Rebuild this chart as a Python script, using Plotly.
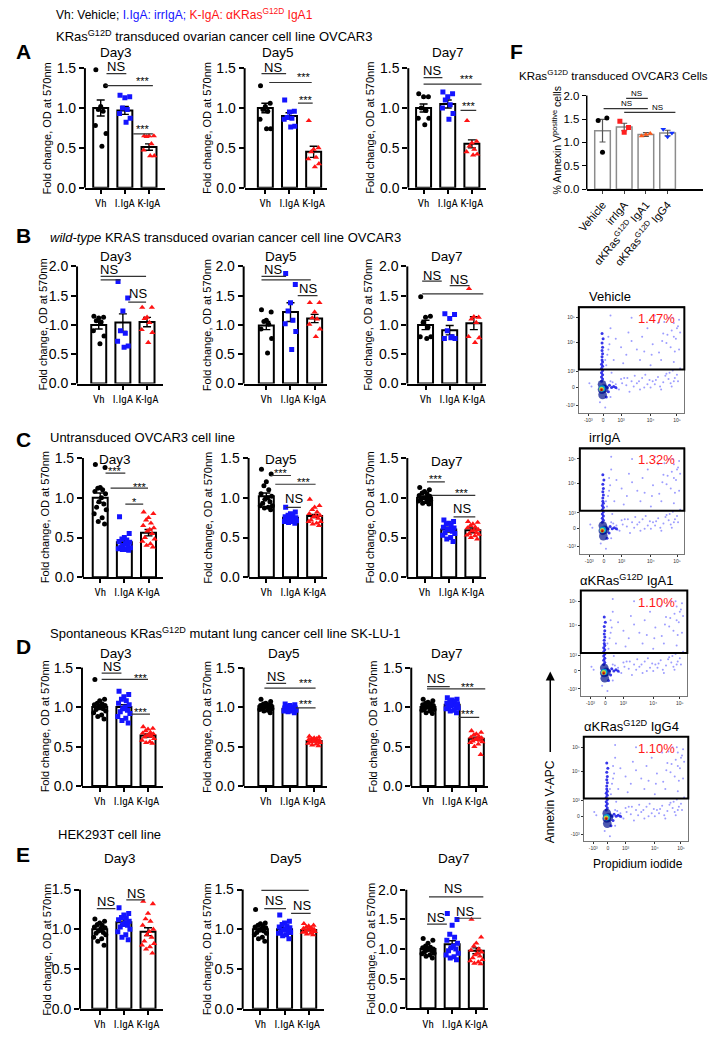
import plotly.graph_objects as go

W, H = 708, 1040
FONT = "Arial, Liberation Sans, sans-serif"
NARROW = "Liberation Sans Narrow, Arial Narrow, Roboto Condensed, Arial, sans-serif"

groups = ["Vh", "I.IgA", "K-IgA"]
group_colors = ["black", "#1414ff", "#ff1414"]
group_symbols = ["circle", "square", "triangle-up"]

# ---- panel A: KRas G12D transduced OVCAR3 ----
A3_mean = [1.0, 0.97, 0.51]
A3_sem = [0.10, 0.05, 0.04]
A3_pts = [[1.48, 1.28, 1.02, 0.98, 0.96, 0.78, 0.68, 0.52],
          [1.16, 1.14, 1.13, 1.0, 0.98, 0.93, 0.87, 0.82],
          [0.65, 0.65, 0.65, 0.64, 0.55, 0.47, 0.40, 0.40]]
A3_sig = [(0.24, 1.06, 1.43, "NS", 0.65, 1.52), (0.2, 2.16, 1.28, "***", 1.76, 1.37),
          (1.35, 2.16, 0.675, "***", 1.76, 0.77)]
A5_mean = [1.0, 0.9, 0.45]
A5_sem = [0.06, 0.04, 0.07]
A5_pts = [[1.28, 1.06, 1.02, 0.98, 0.96, 0.86, 0.74, 0.74],
          [1.1, 0.96, 0.95, 0.88, 0.87, 0.86, 0.77, 0.76],
          [0.84, 0.50, 0.48, 0.45, 0.38, 0.36, 0.30, 0.26]]
A5_sig = [(-0.16, 0.86, 1.43, "NS", 0.33, 1.51), (0.16, 1.92, 1.32, "***", 1.6, 1.42),
          (1.35, 1.96, 1.06, "***", 1.67, 1.13)]
A7_mean = [1.0, 1.05, 0.55]
A7_sem = [0.05, 0.05, 0.05]
A7_pts = [[1.18, 1.14, 1.14, 1.0, 0.97, 0.87, 0.87, 0.79],
          [1.2, 1.18, 1.14, 1.1, 1.04, 1.0, 0.93, 0.86],
          [0.84, 0.58, 0.56, 0.52, 0.48, 0.45, 0.42, 0.41]]
A7_sig = [(0.0, 0.78, 1.38, "NS", 0.35, 1.47), (0.0, 2.4, 1.30, "***", 1.78, 1.39),
          (1.53, 2.18, 0.97, "***", 1.86, 1.06)]

# ---- panel B: wild-type KRAS transduced OVCAR3 ----
B3_mean = [1.0, 1.04, 1.05]
B3_sem = [0.07, 0.15, 0.08]
B3_pts = [[1.15, 1.13, 1.12, 1.07, 1.05, 0.9, 0.81, 0.68],
          [1.74, 1.46, 1.24, 0.9, 0.86, 0.72, 0.64, 0.62],
          [1.3, 1.3, 1.13, 1.11, 1.04, 0.92, 0.87, 0.7]]
B3_sig = [(0.08, 0.9, 1.77, "", 0, 0), (0.08, 1.96, 1.83, "NS", 0.41, 1.95),
          (1.22, 1.96, 1.39, "NS", 1.63, 1.53)]
B5_mean = [0.99, 1.22, 1.11]
B5_sem = [0.07, 0.16, 0.07]
B5_pts = [[1.26, 1.22, 1.08, 1.06, 1.01, 0.93, 0.77, 0.52],
          [1.88, 1.69, 1.38, 1.24, 1.08, 1.02, 0.89, 0.58],
          [1.38, 1.38, 1.22, 1.12, 1.1, 1.01, 0.93, 0.8]]
B5_sig = [(-0.2, 0.82, 1.83, "NS", 0.29, 1.94), (-0.2, 1.84, 1.77, "", 0, 0),
          (1.3, 2.12, 1.5, "NS", 1.71, 1.63)]
B7_mean = [1.0, 0.91, 1.03]
B7_sem = [0.08, 0.08, 0.11]
B7_pts = [[1.48, 1.15, 1.13, 1.04, 0.96, 0.8, 0.8, 0.77],
          [1.19, 1.18, 1.11, 0.9, 0.8, 0.77, 0.77, 0.78],
          [1.62, 1.13, 1.14, 1.1, 1.04, 0.8, 0.78, 0.7]]
B7_sig = [(-0.14, 0.67, 1.75, "NS", 0.27, 1.85), (1.0, 1.82, 1.67, "NS", 1.37, 1.78),
          (-0.14, 2.39, 1.53, "", 0, 0)]

# ---- panel C: untransduced OVCAR3 ----
C3_mean = [1.0, 0.44, 0.56]
C3_sem = [0.06, 0.03, 0.04]
C3_pts = [[1.42, 1.38, 1.13, 1.12, 1.1, 1.08, 1.05, 1.0, 0.95, 0.92, 0.88, 0.85, 0.8, 0.75, 0.7, 0.67],
          [0.76, 0.55, 0.5, 0.48, 0.47, 0.45, 0.44, 0.42, 0.4, 0.4, 0.38, 0.37, 0.36, 0.35, 0.35, 0.34],
          [0.82, 0.8, 0.75, 0.72, 0.68, 0.65, 0.62, 0.6, 0.58, 0.55, 0.5, 0.48, 0.45, 0.42, 0.4, 0.38]]
C3_sig = [(0.22, 1.04, 1.31, "***", 0.63, 1.37), (0.43, 1.98, 1.12, "***", 1.65, 1.17),
          (1.04, 1.78, 0.92, "*", 1.41, 0.98)]
C5_mean = [1.02, 0.75, 0.77]
C5_sem = [0.04, 0.02, 0.02]
C5_pts = [[1.36, 1.3, 1.2, 1.15, 1.1, 1.05, 1.02, 1.0, 0.98, 0.95, 0.93, 0.9, 0.9, 0.88, 0.87, 0.85],
          [0.88, 0.82, 0.8, 0.78, 0.77, 0.76, 0.75, 0.74, 0.73, 0.72, 0.72, 0.71, 0.7, 0.7, 0.69, 0.68],
          [0.98, 0.9, 0.88, 0.85, 0.82, 0.8, 0.78, 0.77, 0.76, 0.74, 0.72, 0.7, 0.7, 0.68, 0.67, 0.65]]
C5_sig = [(0.2, 1.02, 1.28, "***", 0.61, 1.34), (0.37, 2.04, 1.17, "***", 1.55, 1.23),
          (0.82, 1.43, 0.88, "NS", 1.14, 0.99)]
C7_mean = [1.0, 0.6, 0.59]
C7_sem = [0.02, 0.03, 0.03]
C7_pts = [[1.13, 1.1, 1.08, 1.06, 1.05, 1.03, 1.02, 1.0, 1.0, 0.99, 0.98, 0.97, 0.96, 0.95, 0.93, 0.92],
          [0.72, 0.7, 0.68, 0.67, 0.65, 0.63, 0.62, 0.6, 0.6, 0.58, 0.56, 0.55, 0.53, 0.5, 0.48, 0.45],
          [0.7, 0.69, 0.67, 0.65, 0.63, 0.62, 0.6, 0.59, 0.58, 0.56, 0.55, 0.54, 0.53, 0.52, 0.5, 0.48]]
C7_sig = [(0.1, 0.84, 1.2, "***", 0.47, 1.26), (0.31, 2.1, 1.03, "***", 1.53, 1.09),
          (1.2, 2.1, 0.76, "NS", 1.53, 0.87)]

# ---- panel D: SK-LU-1 ----
D3_mean = [1.0, 1.0, 0.64]
D3_sem = [0.03, 0.03, 0.02]
D3_pts = [[1.35, 1.1, 1.08, 1.05, 1.04, 1.03, 1.02, 1.0, 1.0, 0.98, 0.97, 0.95, 0.93, 0.9, 0.88, 0.85],
          [1.2, 1.16, 1.13, 1.1, 1.08, 1.05, 1.03, 1.0, 0.98, 0.96, 0.94, 0.92, 0.88, 0.86, 0.83, 0.8],
          [0.75, 0.73, 0.72, 0.7, 0.68, 0.67, 0.66, 0.65, 0.64, 0.63, 0.62, 0.6, 0.58, 0.56, 0.55, 0.54]]
D3_sig = [(0.08, 0.9, 1.43, "NS", 0.49, 1.51), (0.08, 2.0, 1.35, "***", 1.71, 1.40),
          (1.31, 2.08, 0.91, "***", 1.71, 0.97)]
D5_mean = [1.01, 0.98, 0.57]
D5_sem = [0.01, 0.01, 0.01]
D5_pts = [[1.1, 1.07, 1.05, 1.04, 1.03, 1.02, 1.02, 1.01, 1.0, 1.0, 0.99, 0.98, 0.97, 0.96, 0.95, 0.93],
          [1.04, 1.03, 1.02, 1.01, 1.0, 0.99, 0.99, 0.98, 0.98, 0.97, 0.97, 0.96, 0.95, 0.95, 0.94, 0.93],
          [0.63, 0.62, 0.61, 0.6, 0.6, 0.59, 0.58, 0.57, 0.57, 0.56, 0.56, 0.55, 0.54, 0.53, 0.52, 0.51]]
D5_sig = [(0.02, 0.84, 1.3, "NS", 0.43, 1.39), (-0.06, 2.06, 1.24, "***", 1.65, 1.33),
          (1.24, 2.06, 0.99, "***", 1.65, 1.07)]
D7_mean = [1.0, 1.03, 0.6]
D7_sem = [0.02, 0.02, 0.02]
D7_pts = [[1.1, 1.08, 1.06, 1.05, 1.04, 1.03, 1.02, 1.01, 1.0, 0.99, 0.98, 0.97, 0.96, 0.95, 0.93, 0.92],
          [1.12, 1.1, 1.09, 1.08, 1.07, 1.05, 1.04, 1.03, 1.02, 1.01, 1.0, 0.99, 0.98, 0.96, 0.95, 0.93],
          [0.7, 0.68, 0.66, 0.65, 0.63, 0.62, 0.61, 0.6, 0.59, 0.58, 0.57, 0.56, 0.55, 0.53, 0.5, 0.4]]
D7_sig = [(-0.04, 0.9, 1.26, "NS", 0.33, 1.36), (-0.04, 2.37, 1.23, "***", 1.67, 1.29),
          (1.27, 2.12, 0.87, "***", 1.67, 0.94)]

# ---- panel E: HEK293T ----
E3_mean = [1.0, 1.09, 0.97]
E3_sem = [0.03, 0.03, 0.05]
E3_pts = [[1.13, 1.1, 1.08, 1.06, 1.05, 1.03, 1.02, 1.0, 0.98, 0.96, 0.95, 0.93, 0.9, 0.88, 0.85, 0.8],
          [1.27, 1.2, 1.18, 1.15, 1.14, 1.12, 1.1, 1.08, 1.06, 1.05, 1.03, 1.0, 0.97, 0.93, 0.9, 0.87],
          [1.35, 1.32, 1.2, 1.13, 1.1, 1.05, 1.0, 0.97, 0.93, 0.9, 0.85, 0.82, 0.8, 0.78, 0.75, 0.7]]
E3_sig = [(0.04, 2.08, 1.56, "NS", 1.02, 1.65), (-0.12, 0.65, 1.26, "NS", 0.24, 1.35),
          (1.1, 1.88, 1.37, "NS", 1.51, 1.45)]
E5_mean = [1.0, 1.0, 0.99]
E5_sem = [0.03, 0.02, 0.01]
E5_pts = [[1.25, 1.08, 1.07, 1.05, 1.04, 1.03, 1.02, 1.0, 0.99, 0.98, 0.96, 0.95, 0.93, 0.9, 0.88, 0.85],
          [1.18, 1.1, 1.08, 1.06, 1.04, 1.03, 1.02, 1.0, 0.99, 0.98, 0.97, 0.96, 0.95, 0.93, 0.92, 0.88],
          [1.07, 1.05, 1.04, 1.03, 1.02, 1.01, 1.0, 1.0, 0.99, 0.98, 0.97, 0.97, 0.96, 0.95, 0.94, 0.93]]
E5_sig = [(0.04, 2.0, 1.49, "NS", 1.06, 1.59), (0.16, 1.06, 1.26, "NS", 0.57, 1.36),
          (1.27, 2.08, 1.2, "NS", 1.71, 1.3)]
E7_mean = [1.0, 1.08, 0.97]
E7_sem = [0.03, 0.06, 0.05]
E7_pts = [[1.18, 1.15, 1.1, 1.05, 1.03, 1.02, 1.0, 1.0, 0.98, 0.97, 0.95, 0.93, 0.92, 0.9, 0.88, 0.85],
          [1.6, 1.5, 1.4, 1.25, 1.2, 1.15, 1.1, 1.05, 1.02, 1.0, 0.97, 0.93, 0.9, 0.87, 0.85, 0.82],
          [1.5, 1.2, 1.1, 1.05, 1.0, 0.98, 0.95, 0.93, 0.9, 0.88, 0.85, 0.82, 0.8, 0.78, 0.76, 0.75]]
E7_sig = [(0.04, 2.29, 1.88, "NS", 1.02, 2.02), (-0.04, 0.78, 1.42, "NS", 0.33, 1.53),
          (1.18, 2.2, 1.52, "NS", 1.55, 1.63)]

# ---- panel F: annexin V ----
F_groups = ["Vehicle", "irrIgA", "αKRas<sup>G12D</sup> IgA1", "αKRas<sup>G12D</sup> IgG4"]
F_mean = [1.25, 1.33, 1.17, 1.2]
F_sem = [0.24, 0.08, 0.04, 0.06]
F_pts = [[1.47, 1.52, 0.79], [1.45, 1.32, 1.22], [1.14, 1.19, 1.17], [1.28, 1.2, 1.12]]
F_colors = ["black", "#ff2020", "#ff5a1a", "#1030ff"]
F_symbols = ["circle", "square", "triangle-up", "triangle-down"]
F_sig = [(1.09, 2.09, 1.94, "NS", 1.59, 2.04), (0.05, 2.09, 1.72, "NS", 1.09, 1.82),
         (1.0, 3.36, 1.64, "NS", 2.55, 1.75)]

# ---- flow cytometry (display units 0-1) ----
flow_names = ["Vehicle", "irrIgA", "αKRas<sup>G12D</sup> IgA1", "αKRas<sup>G12D</sup> IgG4"]
flow_pct = ["1.47%", "1.32%", "1.10%", "1.10%"]
flow_gate_low = 0.41
flow_xticks = [0.09, 0.23, 0.40, 0.68, 0.93]
flow_xtext = ["-10³", "0", "10³", "10⁴", "10⁵"]
flow_yticks = [0.07, 0.24, 0.39, 0.67, 0.90]
flow_ytext = ["-10³", "0", "10³", "10⁴", "10⁵"]
ev_x = [0.85, 0.9, 0.88, 0.92, 0.8, 0.75, 0.95, 0.87, 0.7, 0.65, 0.6, 0.55, 0.5, 0.45, 0.4, 0.35,
        0.3, 0.28, 0.33, 0.42, 0.58, 0.68, 0.78, 0.9, 0.95, 0.72, 0.5, 0.3, 0.93, 0.83, 0.62, 0.47,
        0.3, 0.35, 0.4, 0.45, 0.5, 0.55, 0.6, 0.65, 0.7, 0.75, 0.8, 0.85, 0.9, 0.93, 0.38, 0.48,
        0.58, 0.68, 0.78, 0.88, 0.2, 0.3, 0.25, 0.12, 0.1, 0.63, 0.73, 0.83, 0.53, 0.43, 0.96, 0.89,
        0.27, 0.32, 0.36, 0.41, 0.46, 0.52, 0.57, 0.62, 0.67, 0.72, 0.77, 0.82, 0.87, 0.91, 0.94, 0.86,
        0.9, 0.94, 0.89, 0.84, 0.79, 0.91, 0.96, 0.81, 0.76, 0.69, 0.26, 0.27, 0.29, 0.31, 0.25, 0.28]
ev_y = [0.9, 0.85, 0.78, 0.7, 0.75, 0.85, 0.6, 0.62, 0.65, 0.8, 0.72, 0.6, 0.68, 0.55, 0.62, 0.7,
        0.8, 0.6, 0.5, 0.47, 0.5, 0.45, 0.5, 0.48, 0.88, 0.92, 0.9, 0.92, 0.8, 0.66, 0.58, 0.76,
        0.3, 0.27, 0.32, 0.26, 0.3, 0.28, 0.33, 0.27, 0.3, 0.34, 0.29, 0.32, 0.3, 0.36, 0.22, 0.2,
        0.22, 0.24, 0.22, 0.25, 0.1, 0.15, 0.05, 0.25, 0.28, 0.36, 0.31, 0.37, 0.35, 0.33, 0.42, 0.4,
        0.24, 0.29, 0.23, 0.28, 0.33, 0.25, 0.3, 0.24, 0.31, 0.27, 0.25, 0.35, 0.28, 0.33, 0.3, 0.38,
        0.72, 0.82, 0.9, 0.74, 0.68, 0.58, 0.76, 0.86, 0.57, 0.55, 0.45, 0.55, 0.65, 0.38, 0.5, 0.72]
streak_x = [0.215, 0.225, 0.215, 0.225, 0.215, 0.225, 0.215, 0.225, 0.215, 0.225, 0.22, 0.22,
            0.225, 0.22, 0.225, 0.22, 0.23, 0.22, 0.25, 0.27, 0.29, 0.31, 0.33, 0.35, 0.26, 0.28]
streak_y = [0.3, 0.32, 0.34, 0.36, 0.38, 0.4, 0.42, 0.44, 0.46, 0.48, 0.5, 0.53, 0.56, 0.59, 0.62,
            0.66, 0.7, 0.75, 0.25, 0.24, 0.26, 0.24, 0.25, 0.24, 0.15, 0.2]
core_x = [0.22, 0.22, 0.225, 0.24, 0.22, 0.215, 0.215, 0.215]
core_y = [0.22, 0.27, 0.17, 0.23, 0.23, 0.225, 0.22, 0.215]
core_level = [0.05, 0.05, 0.05, 0.05, 0.35, 0.6, 0.8, 1.0]

SP = 24.5  # px between bar centres
JIT = [-0.2, 0.2, 0.0, -0.1, 0.1, -0.22, 0.22, 0.05, -0.05, 0.15, -0.15, 0.25, -0.25, 0.08, -0.08, 0.18]

# (mean, sem, pts, sig, day, axis_x, first_centre, end_x, y0, px_per_unit, axmax, ylab_x, day_x, day_y)
panels = [
    (A3_mean, A3_sem, A3_pts, A3_sig, "Day3", 76, 92, 157, 185, 80.7, 1.5, 37, 108, 48),
    (A5_mean, A5_sem, A5_pts, A5_sig, "Day5", 238, 259, 322, 185, 80.7, 1.5, 200, 272, 48),
    (A7_mean, A7_sem, A7_pts, A7_sig, "Day7", 404, 419.5, 483, 185, 80.7, 1.5, 365, 444, 48),
    (B3_mean, B3_sem, B3_pts, B3_sig, "Day3", 68, 90, 155, 383.3, 59.3, 2.0, 33, 108, 255),
    (B5_mean, B5_sem, B5_pts, B5_sig, "Day5", 237, 260, 322, 383.3, 59.3, 2.0, 200, 275, 255),
    (B7_mean, B7_sem, B7_pts, B7_sig, "Day7", 403, 421.5, 483, 383.3, 59.3, 2.0, 363, 443, 255),
    (C3_mean, C3_sem, C3_pts, C3_sig, "Day3", 74, 91.5, 155, 579.5, 80.5, 1.5, 35, 107, 460),
    (C5_mean, C5_sem, C5_pts, C5_sig, "Day5", 242, 260, 322, 579.5, 80.5, 1.5, 200, 275, 460),
    (C7_mean, C7_sem, C7_pts, C7_sig, "Day7", 403, 420.5, 483, 579.5, 80.5, 1.5, 365, 443, 462),
    (D3_mean, D3_sem, D3_pts, D3_sig, "Day3", 73, 91, 155, 791, 80, 1.5, 35, 108, 657),
    (D5_mean, D5_sem, D5_pts, D5_sig, "Day5", 237, 259.5, 322, 791, 80, 1.5, 200, 278, 657),
    (D7_mean, D7_sem, D7_pts, D7_sig, "Day7", 407, 424, 485, 791, 80, 1.5, 368, 443, 657),
    (E3_mean, E3_sem, E3_pts, E3_sig, "Day3", 71, 91, 155, 1016.5, 80.5, 1.5, 38, 112, 864),
    (E5_mean, E5_sem, E5_pts, E5_sig, "Day5", 236, 254, 318, 1016.5, 80.5, 1.5, 200, 280, 864),
    (E7_mean, E7_sem, E7_pts, E7_sig, "Day7", 402, 424, 485, 1016, 60, 2.0, 366, 450, 864),
]

fig = go.Figure()
layout = {}
shapes = []
annots = []


def px(x):
    return x / W


def py(y):
    return 1 - y / H


def text(x, y, s, size=12, color="black", xanchor="center", yanchor="middle", angle=0, bold=False):
    if bold:
        s = "<b>" + s + "</b>"
    annots.append(dict(x=px(x), y=py(y), xref="paper", yref="paper", text=s, showarrow=False,
                       xanchor=xanchor, yanchor=yanchor, textangle=angle,
                       font=dict(size=size, color=color, family=FONT)))


def axis_ids(n):
    s = "" if n == 1 else str(n)
    return "x" + s, "y" + s, "xaxis" + s, "yaxis" + s


def add_sig(xid, yid, sig, ns_size, star_size, color="#333"):
    for x0, x1, yl, lab, tx, ty in sig:
        shapes.append(dict(type="line", xref=xid, yref=yid, x0=x0, x1=x1, y0=yl, y1=yl,
                           line=dict(color=color, width=1.2)))
        if lab:
            sz = ns_size if lab == "NS" else star_size
            dy = 0 if lab == "NS" else -0.03
            annots.append(dict(x=tx, y=ty + dy, xref=xid, yref=yid, text=lab, showarrow=False,
                               font=dict(size=sz, color="black", family=FONT)))


n = 0
for mean, sem, pts, sig, day, ax_x, c0, end_x, y0, ppu, axmax, ylab_x, day_x, day_y in panels:
    n += 1
    xid, yid, xk, yk = axis_ids(n)
    ytop = axmax * 1.03
    fig.add_trace(go.Bar(x=[0, 1, 2], y=mean, width=0.62, xaxis=xid, yaxis=yid,
                         marker=dict(color="white", line=dict(color="black", width=2)),
                         error_y=dict(type="data", array=sem, color="black", thickness=1.4, width=4)))
    for gi in range(3):
        xs = [gi + JIT[k % len(JIT)] for k in range(len(pts[gi]))]
        fig.add_trace(go.Scatter(x=xs, y=pts[gi], mode="markers", xaxis=xid, yaxis=yid,
                                 marker=dict(symbol=group_symbols[gi], color=group_colors[gi],
                                             size=5 if gi < 2 else 5.5, line=dict(width=0))))
    layout[xk] = dict(domain=[px(ax_x), px(end_x)], range=[(ax_x - c0) / SP, (end_x - c0) / SP],
                      anchor=yid, tickvals=[0, 1, 2], ticktext=groups, tickangle=0, showline=True,
                      linewidth=2, linecolor="black", ticks="outside", ticklen=4, tickwidth=1.5,
                      tickcolor="black", showgrid=False, zeroline=False,
                      tickfont=dict(size=11, color="black", family=NARROW))
    yticks = [i * 0.5 for i in range(int(axmax / 0.5) + 1)]
    layout[yk] = dict(domain=[py(y0), py(y0 - ppu * ytop)], range=[0, ytop], anchor=xid,
                      tickvals=yticks, ticktext=["%.1f" % v for v in yticks], showline=False,
                      ticks="outside", ticklen=5, tickwidth=1.5, tickcolor="black",
                      showgrid=False, zeroline=False, tickfont=dict(size=14, color="black", family=FONT))
    shapes.append(dict(type="line", xref=xid + " domain", yref=yid + " domain", x0=0, x1=0,
                       y0=0, y1=axmax / ytop, line=dict(color="black", width=2)))
    add_sig(xid, yid, sig, 13, 11)
    text(day_x, day_y, day, size=13.5)
    text(ylab_x, y0 - ppu * axmax / 2, "Fold change, OD at 570nm", size=11, angle=-90)

# ---- panel F bar chart ----
n += 1
xid, yid, xk, yk = axis_ids(n)
F_ax, F_c0, F_end, F_y0, F_ppu, F_max, F_sp = 585, 601, 703, 186.7, 47.5, 2.0, 22
F_top = 2.1
fig.add_trace(go.Bar(x=[0, 1, 2, 3], y=F_mean, width=0.72, xaxis=xid, yaxis=yid,
                     marker=dict(color="white", line=dict(color="#8c8c8c", width=1.5)),
                     error_y=dict(type="data", array=F_sem, color="#555", thickness=1.2, width=3)))
for gi in range(4):
    xs = [gi + o for o in [-0.2, 0.2, 0.0][:len(F_pts[gi])]]
    fig.add_trace(go.Scatter(x=xs, y=F_pts[gi], mode="markers", xaxis=xid, yaxis=yid,
                             marker=dict(symbol=F_symbols[gi], color=F_colors[gi], size=5)))
layout[xk] = dict(domain=[px(F_ax), px(F_end)], range=[(F_ax - F_c0) / F_sp, (F_end - F_c0) / F_sp],
                  anchor=yid, tickvals=[0, 1, 2, 3], ticktext=F_groups, tickangle=-50, showline=True,
                  linewidth=1.5, linecolor="black", ticks="outside", ticklen=3, tickwidth=1,
                  showgrid=False, zeroline=False, tickfont=dict(size=11, color="black", family=FONT))
layout[yk] = dict(domain=[py(F_y0), py(F_y0 - F_ppu * F_top)], range=[0, F_top], anchor=xid,
                  tickvals=[0, 0.5, 1, 1.5, 2], ticktext=["0.0", "0.5", "1.0", "1.5", "2.0"],
                  showline=False, ticks="outside", ticklen=4, tickwidth=1.2, tickcolor="black",
                  showgrid=False, zeroline=False, tickfont=dict(size=11.5, color="black", family=FONT))
shapes.append(dict(type="line", xref=xid + " domain", yref=yid + " domain", x0=0, x1=0,
                   y0=0, y1=F_max / F_top, line=dict(color="black", width=1.5)))
add_sig(xid, yid, F_sig, 8, 8)
text(612, 71, "KRas<sup>G12D</sup> transduced OVCAR3 Cells", size=11.5)
text(554, 137, "% Annexin V<sup>positive</sup> cells", size=10.5, angle=-90)

# ---- flow cytometry plots ----
flow_geo = [(577, 684, 306, 413, 585, 295, 317),
            (578, 684, 449, 556, 585, 438, 460),
            (579, 687, 593, 700, 576, 582, 605),
            (582, 688, 741, 847, 580, 730, 753)]
for fi, (x0p, x1p, y0p, y1p, lab_x, lab_y, pct_y) in enumerate(flow_geo):
    n += 1
    xid, yid, xk, yk = axis_ids(n)
    fig.add_trace(go.Scatter(x=ev_x, y=ev_y, mode="markers", xaxis=xid, yaxis=yid,
                             marker=dict(size=2, color="rgba(60,60,255,0.5)")))
    fig.add_trace(go.Scatter(x=streak_x, y=streak_y, mode="markers", xaxis=xid, yaxis=yid,
                             marker=dict(size=3, color="rgba(20,20,230,0.85)")))
    fig.add_trace(go.Scatter(x=core_x, y=core_y, mode="markers", xaxis=xid, yaxis=yid,
                             marker=dict(size=[9 - 7 * v for v in core_level], color=core_level,
                                         colorscale="Jet", cmin=0, cmax=1, line=dict(width=0))))
    common = dict(range=[0, 1], showgrid=False, zeroline=False, showline=True, mirror=True,
                  linecolor="#777", linewidth=1, ticks="outside", ticklen=2, tickwidth=0.8,
                  tickcolor="#333", tickfont=dict(size=5, color="#333", family=FONT))
    layout[xk] = dict(domain=[px(x0p), px(x1p)], anchor=yid, tickvals=flow_xticks,
                      ticktext=flow_xtext, **common)
    layout[yk] = dict(domain=[py(y1p), py(y0p)], anchor=xid, tickvals=flow_yticks,
                      ticktext=flow_ytext, **common)
    shapes.append(dict(type="rect", xref=xid + " domain", yref=yid + " domain", x0=0, x1=1,
                       y0=flow_gate_low, y1=1, line=dict(color="black", width=2)))
    text(lab_x, lab_y, flow_names[fi], size=13, xanchor="left")
    text(677, pct_y, flow_pct[fi], size=13, color="#ff1a1a", xanchor="right")

text(637, 870, "Propidium iodide", size=12)
text(548, 807, "Annexin V-APC", size=12, angle=-90)
annots.append(dict(x=px(548), y=py(675), xref="paper", yref="paper", ax=0, ay=82,
                   text="", showarrow=True, arrowhead=2,
                   arrowsize=1.2, arrowwidth=1.5, arrowcolor="black"))

# ---- headings ----
text(45, 9, "Vh: Vehicle; <span style='color:#1414ff'>I.IgA: irrIgA;</span> "
            "<span style='color:#ff1414'>K-IgA: αKRas<sup>G12D</sup> IgA1</span>",
     size=12, xanchor="left")
text(45, 31, "KRas<sup>G12D</sup> transduced ovarian cancer cell line OVCAR3", size=13, xanchor="left")
text(39, 235, "<i>wild-type</i> KRAS transduced ovarian cancer cell line OVCAR3", size=13, xanchor="left")
text(39, 438, "Untransduced OVCAR3 cell line", size=13, xanchor="left")
text(39, 636, "Spontaneous KRas<sup>G12D</sup> mutant lung cancer cell line SK-LU-1", size=13, xanchor="left")
text(47, 840, "HEK293T cell line", size=13, xanchor="left")
for letter, lx, ly in [("A", 4, 47), ("B", 4, 233), ("C", 4, 440), ("D", 4, 650), ("E", 4, 860), ("F", 505, 47)]:
    text(lx, ly, letter, size=21, xanchor="left", bold=True)

fig.update_layout(width=W, height=H, margin=dict(l=0, r=0, t=0, b=0), showlegend=False,
                  paper_bgcolor="white", plot_bgcolor="white", barmode="overlay",
                  font=dict(family=FONT, color="black"), shapes=shapes, annotations=annots, **layout)
fig.write_html("out.html", config={"displayModeBar": False},
               post_script="document.body.style.margin='0px';")
